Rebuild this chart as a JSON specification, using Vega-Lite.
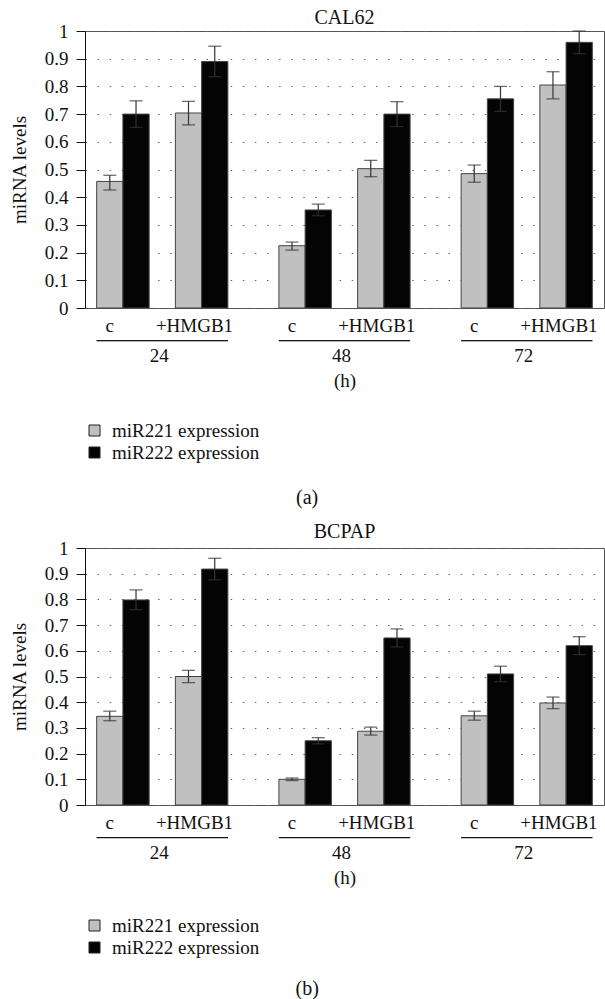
{
  "$schema": "https://vega.github.io/schema/vega-lite/v6.json",
  "padding": {"top": 7, "left": 9, "right": 0, "bottom": 0},
  "background": "white",
  "config": {
    "font": "Liberation Serif",
    "view": {"stroke": "#555555", "strokeWidth": 1},
    "axis": {"labelFont": "Liberation Serif", "titleFont": "Liberation Serif", "labelFontSize": 19, "titleFontSize": 19, "labelColor": "#111111", "titleColor": "#111111", "titleFontWeight": "normal"},
    "title": {"font": "Liberation Serif", "fontSize": 20, "fontWeight": "normal", "color": "#111111"},
    "concat": {"spacing": 13}
  },
  "datasets": {
    "bars": [
      {"cell": "CAL62", "time": "24", "treatment": "c", "bar": "c|miR221", "mir": "miR221 expression", "value": 0.457, "lo": 0.426, "hi": 0.479},
      {"cell": "CAL62", "time": "24", "treatment": "c", "bar": "c|miR222", "mir": "miR222 expression", "value": 0.700, "lo": 0.652, "hi": 0.748},
      {"cell": "CAL62", "time": "24", "treatment": "+HMGB1", "bar": "+HMGB1|miR221", "mir": "miR221 expression", "value": 0.704, "lo": 0.661, "hi": 0.746},
      {"cell": "CAL62", "time": "24", "treatment": "+HMGB1", "bar": "+HMGB1|miR222", "mir": "miR222 expression", "value": 0.890, "lo": 0.835, "hi": 0.945},
      {"cell": "CAL62", "time": "48", "treatment": "c", "bar": "c|miR221", "mir": "miR221 expression", "value": 0.225, "lo": 0.209, "hi": 0.238},
      {"cell": "CAL62", "time": "48", "treatment": "c", "bar": "c|miR222", "mir": "miR222 expression", "value": 0.354, "lo": 0.333, "hi": 0.375},
      {"cell": "CAL62", "time": "48", "treatment": "+HMGB1", "bar": "+HMGB1|miR221", "mir": "miR221 expression", "value": 0.503, "lo": 0.474, "hi": 0.533},
      {"cell": "CAL62", "time": "48", "treatment": "+HMGB1", "bar": "+HMGB1|miR222", "mir": "miR222 expression", "value": 0.700, "lo": 0.655, "hi": 0.745},
      {"cell": "CAL62", "time": "72", "treatment": "c", "bar": "c|miR221", "mir": "miR221 expression", "value": 0.485, "lo": 0.454, "hi": 0.516},
      {"cell": "CAL62", "time": "72", "treatment": "c", "bar": "c|miR222", "mir": "miR222 expression", "value": 0.755, "lo": 0.710, "hi": 0.800},
      {"cell": "CAL62", "time": "72", "treatment": "+HMGB1", "bar": "+HMGB1|miR221", "mir": "miR221 expression", "value": 0.805, "lo": 0.755, "hi": 0.853},
      {"cell": "CAL62", "time": "72", "treatment": "+HMGB1", "bar": "+HMGB1|miR222", "mir": "miR222 expression", "value": 0.959, "lo": 0.918, "hi": 1.0},
      {"cell": "BCPAP", "time": "24", "treatment": "c", "bar": "c|miR221", "mir": "miR221 expression", "value": 0.345, "lo": 0.328, "hi": 0.365},
      {"cell": "BCPAP", "time": "24", "treatment": "c", "bar": "c|miR222", "mir": "miR222 expression", "value": 0.798, "lo": 0.760, "hi": 0.837},
      {"cell": "BCPAP", "time": "24", "treatment": "+HMGB1", "bar": "+HMGB1|miR221", "mir": "miR221 expression", "value": 0.500, "lo": 0.476, "hi": 0.524},
      {"cell": "BCPAP", "time": "24", "treatment": "+HMGB1", "bar": "+HMGB1|miR222", "mir": "miR222 expression", "value": 0.918, "lo": 0.876, "hi": 0.960},
      {"cell": "BCPAP", "time": "48", "treatment": "c", "bar": "c|miR221", "mir": "miR221 expression", "value": 0.100, "lo": 0.095, "hi": 0.105},
      {"cell": "BCPAP", "time": "48", "treatment": "c", "bar": "c|miR222", "mir": "miR222 expression", "value": 0.250, "lo": 0.238, "hi": 0.262},
      {"cell": "BCPAP", "time": "48", "treatment": "+HMGB1", "bar": "+HMGB1|miR221", "mir": "miR221 expression", "value": 0.287, "lo": 0.272, "hi": 0.303},
      {"cell": "BCPAP", "time": "48", "treatment": "+HMGB1", "bar": "+HMGB1|miR222", "mir": "miR222 expression", "value": 0.650, "lo": 0.615, "hi": 0.685},
      {"cell": "BCPAP", "time": "72", "treatment": "c", "bar": "c|miR221", "mir": "miR221 expression", "value": 0.347, "lo": 0.330, "hi": 0.365},
      {"cell": "BCPAP", "time": "72", "treatment": "c", "bar": "c|miR222", "mir": "miR222 expression", "value": 0.510, "lo": 0.480, "hi": 0.540},
      {"cell": "BCPAP", "time": "72", "treatment": "+HMGB1", "bar": "+HMGB1|miR221", "mir": "miR221 expression", "value": 0.397, "lo": 0.375, "hi": 0.420},
      {"cell": "BCPAP", "time": "72", "treatment": "+HMGB1", "bar": "+HMGB1|miR222", "mir": "miR222 expression", "value": 0.620, "lo": 0.585, "hi": 0.655}
    ],
    "groups": [{"time": "24"}, {"time": "48"}, {"time": "72"}]
  },
  "resolve": {"scale": {"color": "independent"}, "legend": {"color": "independent"}},
  "vconcat": [
    {
      "title": {"text": "(a)", "orient": "bottom", "anchor": "middle", "offset": 24},
      "resolve": {"scale": {"color": "independent"}, "legend": {"color": "independent"}},
      "vconcat": [
        {
          "width": 519,
          "height": 277,
          "title": {"text": "CAL62", "offset": -6},
          "layer": [
            {
              "data": {"name": "bars"},
              "transform": [{"filter": "datum.cell === 'CAL62'"}],
              "mark": {"type": "bar", "stroke": "#444444", "strokeWidth": 1},
              "encoding": {
                "x": {"field": "time", "type": "nominal", "sort": ["24", "48", "72"], "scale": {"paddingInner": 0.28, "paddingOuter": 0.064},
                  "axis": {"title": "(h)", "labelAngle": 0, "labelPadding": 38, "ticks": false, "domain": false, "titlePadding": 6, "labelOffset": -3}},
                "xOffset": {"field": "bar", "type": "nominal", "scale": {"domain": ["c|miR221", "c|miR222", "gap", "+HMGB1|miR221", "+HMGB1|miR222"], "paddingInner": 0, "paddingOuter": 0}},
                "y": {"field": "value", "type": "quantitative", "scale": {"domain": [0, 1], "nice": false},
                  "axis": {"title": "miRNA levels", "values": [0, 0.1, 0.2, 0.3, 0.4, 0.5, 0.6, 0.7, 0.8, 0.9, 1], "format": "~g", "labelOverlap": false, "grid": true, "gridDash": [1.5, 10.6], "gridColor": "#666666", "gridWidth": 1, "tickSize": 9, "tickColor": "#111111", "domainColor": "#111111", "labelPadding": 8, "titlePadding": 15}},
                "color": {"field": "mir", "type": "nominal", "scale": {"domain": ["miR221 expression", "miR222 expression"], "range": ["#c0c0c0", "#040404"]},
                  "legend": {"orient": "none", "legendX": 0, "legendY": 390, "title": null, "symbolType": "square", "symbolSize": 121, "symbolStrokeColor": "#222222", "symbolStrokeWidth": 1, "symbolOpacity": 1, "labelFontSize": 19, "labelFont": "Liberation Serif", "labelColor": "#111111", "labelOffset": 8, "rowPadding": 2, "padding": 0}}
              }
            },
            {
              "data": {"name": "bars"},
              "transform": [{"filter": "datum.cell === 'CAL62'"}],
              "mark": {"type": "rule", "color": "#333333", "strokeWidth": 1.2},
              "encoding": {
                "x": {"field": "time", "type": "nominal", "sort": ["24", "48", "72"]},
                "xOffset": {"field": "bar", "type": "nominal"},
                "y": {"field": "lo", "type": "quantitative", "scale": {"domain": [0, 1], "nice": false},
                  "axis": {"title": "miRNA levels", "values": [0, 0.1, 0.2, 0.3, 0.4, 0.5, 0.6, 0.7, 0.8, 0.9, 1], "format": "~g", "labelOverlap": false, "grid": true, "gridDash": [1.5, 10.6], "gridColor": "#666666", "gridWidth": 1, "tickSize": 9, "tickColor": "#111111", "domainColor": "#111111", "labelPadding": 8, "titlePadding": 15}},
                "y2": {"field": "hi"}
              }
            },
            {
              "data": {"name": "bars"},
              "transform": [{"filter": "datum.cell === 'CAL62'"}],
              "mark": {"type": "tick", "color": "#333333", "thickness": 1.3, "size": 13},
              "encoding": {
                "x": {"field": "time", "type": "nominal", "sort": ["24", "48", "72"]},
                "xOffset": {"field": "bar", "type": "nominal"},
                "y": {"field": "lo", "type": "quantitative", "scale": {"domain": [0, 1], "nice": false},
                  "axis": {"title": "miRNA levels", "values": [0, 0.1, 0.2, 0.3, 0.4, 0.5, 0.6, 0.7, 0.8, 0.9, 1], "format": "~g", "labelOverlap": false, "grid": true, "gridDash": [1.5, 10.6], "gridColor": "#666666", "gridWidth": 1, "tickSize": 9, "tickColor": "#111111", "domainColor": "#111111", "labelPadding": 8, "titlePadding": 15}}
              }
            },
            {
              "data": {"name": "bars"},
              "transform": [{"filter": "datum.cell === 'CAL62'"}],
              "mark": {"type": "tick", "color": "#333333", "thickness": 1.3, "size": 13},
              "encoding": {
                "x": {"field": "time", "type": "nominal", "sort": ["24", "48", "72"]},
                "xOffset": {"field": "bar", "type": "nominal"},
                "y": {"field": "hi", "type": "quantitative", "scale": {"domain": [0, 1], "nice": false},
                  "axis": {"title": "miRNA levels", "values": [0, 0.1, 0.2, 0.3, 0.4, 0.5, 0.6, 0.7, 0.8, 0.9, 1], "format": "~g", "labelOverlap": false, "grid": true, "gridDash": [1.5, 10.6], "gridColor": "#666666", "gridWidth": 1, "tickSize": 9, "tickColor": "#111111", "domainColor": "#111111", "labelPadding": 8, "titlePadding": 15}}
              }
            },
            {
              "data": {"name": "bars"},
              "transform": [{"filter": "datum.cell === 'CAL62' && datum.mir === 'miR221 expression' && datum.treatment === 'c'"}],
              "mark": {"type": "text", "baseline": "middle", "fontSize": 19, "font": "Liberation Serif", "color": "#111111"},
              "encoding": {
                "x": {"field": "time", "type": "nominal", "sort": ["24", "48", "72"]},
                "xOffset": {"field": "bar", "type": "nominal"},
                "y": {"datum": -0.065, "type": "quantitative", "scale": {"domain": [0, 1], "nice": false},
                  "axis": {"title": "miRNA levels", "values": [0, 0.1, 0.2, 0.3, 0.4, 0.5, 0.6, 0.7, 0.8, 0.9, 1], "format": "~g", "labelOverlap": false, "grid": true, "gridDash": [1.5, 10.6], "gridColor": "#666666", "gridWidth": 1, "tickSize": 9, "tickColor": "#111111", "domainColor": "#111111", "labelPadding": 8, "titlePadding": 15}},
                "text": {"field": "treatment"}
              }
            },
            {
              "data": {"name": "bars"},
              "transform": [{"filter": "datum.cell === 'CAL62' && datum.mir === 'miR221 expression' && datum.treatment === '+HMGB1'"}],
              "mark": {"type": "text", "baseline": "middle", "fontSize": 19, "font": "Liberation Serif", "color": "#111111", "dx": 6},
              "encoding": {
                "x": {"field": "time", "type": "nominal", "sort": ["24", "48", "72"]},
                "xOffset": {"field": "bar", "type": "nominal"},
                "y": {"datum": -0.065, "type": "quantitative", "scale": {"domain": [0, 1], "nice": false},
                  "axis": {"title": "miRNA levels", "values": [0, 0.1, 0.2, 0.3, 0.4, 0.5, 0.6, 0.7, 0.8, 0.9, 1], "format": "~g", "labelOverlap": false, "grid": true, "gridDash": [1.5, 10.6], "gridColor": "#666666", "gridWidth": 1, "tickSize": 9, "tickColor": "#111111", "domainColor": "#111111", "labelPadding": 8, "titlePadding": 15}},
                "text": {"field": "treatment"}
              }
            },
            {
              "data": {"name": "groups"},
              "mark": {"type": "rect", "stroke": "#111111", "strokeWidth": 1, "fill": "#111111"},
              "encoding": {
                "x": {"field": "time", "type": "nominal", "sort": ["24", "48", "72"]},
                "y": {"datum": -0.118, "type": "quantitative", "scale": {"domain": [0, 1], "nice": false},
                  "axis": {"title": "miRNA levels", "values": [0, 0.1, 0.2, 0.3, 0.4, 0.5, 0.6, 0.7, 0.8, 0.9, 1], "format": "~g", "labelOverlap": false, "grid": true, "gridDash": [1.5, 10.6], "gridColor": "#666666", "gridWidth": 1, "tickSize": 9, "tickColor": "#111111", "domainColor": "#111111", "labelPadding": 8, "titlePadding": 15}},
                "y2": {"datum": -0.118}
              }
            }
          ]
        }
      ]
    },
    {
      "title": {"text": "(b)", "orient": "bottom", "anchor": "middle", "offset": 20},
      "resolve": {"scale": {"color": "independent"}, "legend": {"color": "independent"}},
      "vconcat": [
        {
          "width": 519,
          "height": 257,
          "title": {"text": "BCPAP", "offset": -3},
          "layer": [
            {
              "data": {"name": "bars"},
              "transform": [{"filter": "datum.cell === 'BCPAP'"}],
              "mark": {"type": "bar", "stroke": "#444444", "strokeWidth": 1},
              "encoding": {
                "x": {"field": "time", "type": "nominal", "sort": ["24", "48", "72"], "scale": {"paddingInner": 0.28, "paddingOuter": 0.064},
                  "axis": {"title": "(h)", "labelAngle": 0, "labelPadding": 38, "ticks": false, "domain": false, "titlePadding": 6, "labelOffset": -3}},
                "xOffset": {"field": "bar", "type": "nominal", "scale": {"domain": ["c|miR221", "c|miR222", "gap", "+HMGB1|miR221", "+HMGB1|miR222"], "paddingInner": 0, "paddingOuter": 0}},
                "y": {"field": "value", "type": "quantitative", "scale": {"domain": [0, 1], "nice": false},
                  "axis": {"title": "miRNA levels", "values": [0, 0.1, 0.2, 0.3, 0.4, 0.5, 0.6, 0.7, 0.8, 0.9, 1], "format": "~g", "labelOverlap": false, "grid": true, "gridDash": [1.5, 10.6], "gridColor": "#666666", "gridWidth": 1, "tickSize": 9, "tickColor": "#111111", "domainColor": "#111111", "labelPadding": 8, "titlePadding": 15}},
                "color": {"field": "mir", "type": "nominal", "scale": {"domain": ["miR221 expression", "miR222 expression"], "range": ["#c0c0c0", "#040404"]},
                  "legend": {"orient": "none", "legendX": 0, "legendY": 368, "title": null, "symbolType": "square", "symbolSize": 121, "symbolStrokeColor": "#222222", "symbolStrokeWidth": 1, "symbolOpacity": 1, "labelFontSize": 19, "labelFont": "Liberation Serif", "labelColor": "#111111", "labelOffset": 8, "rowPadding": 2, "padding": 0}}
              }
            },
            {
              "data": {"name": "bars"},
              "transform": [{"filter": "datum.cell === 'BCPAP'"}],
              "mark": {"type": "rule", "color": "#333333", "strokeWidth": 1.2},
              "encoding": {
                "x": {"field": "time", "type": "nominal", "sort": ["24", "48", "72"]},
                "xOffset": {"field": "bar", "type": "nominal"},
                "y": {"field": "lo", "type": "quantitative", "scale": {"domain": [0, 1], "nice": false},
                  "axis": {"title": "miRNA levels", "values": [0, 0.1, 0.2, 0.3, 0.4, 0.5, 0.6, 0.7, 0.8, 0.9, 1], "format": "~g", "labelOverlap": false, "grid": true, "gridDash": [1.5, 10.6], "gridColor": "#666666", "gridWidth": 1, "tickSize": 9, "tickColor": "#111111", "domainColor": "#111111", "labelPadding": 8, "titlePadding": 15}},
                "y2": {"field": "hi"}
              }
            },
            {
              "data": {"name": "bars"},
              "transform": [{"filter": "datum.cell === 'BCPAP'"}],
              "mark": {"type": "tick", "color": "#333333", "thickness": 1.3, "size": 13},
              "encoding": {
                "x": {"field": "time", "type": "nominal", "sort": ["24", "48", "72"]},
                "xOffset": {"field": "bar", "type": "nominal"},
                "y": {"field": "lo", "type": "quantitative", "scale": {"domain": [0, 1], "nice": false},
                  "axis": {"title": "miRNA levels", "values": [0, 0.1, 0.2, 0.3, 0.4, 0.5, 0.6, 0.7, 0.8, 0.9, 1], "format": "~g", "labelOverlap": false, "grid": true, "gridDash": [1.5, 10.6], "gridColor": "#666666", "gridWidth": 1, "tickSize": 9, "tickColor": "#111111", "domainColor": "#111111", "labelPadding": 8, "titlePadding": 15}}
              }
            },
            {
              "data": {"name": "bars"},
              "transform": [{"filter": "datum.cell === 'BCPAP'"}],
              "mark": {"type": "tick", "color": "#333333", "thickness": 1.3, "size": 13},
              "encoding": {
                "x": {"field": "time", "type": "nominal", "sort": ["24", "48", "72"]},
                "xOffset": {"field": "bar", "type": "nominal"},
                "y": {"field": "hi", "type": "quantitative", "scale": {"domain": [0, 1], "nice": false},
                  "axis": {"title": "miRNA levels", "values": [0, 0.1, 0.2, 0.3, 0.4, 0.5, 0.6, 0.7, 0.8, 0.9, 1], "format": "~g", "labelOverlap": false, "grid": true, "gridDash": [1.5, 10.6], "gridColor": "#666666", "gridWidth": 1, "tickSize": 9, "tickColor": "#111111", "domainColor": "#111111", "labelPadding": 8, "titlePadding": 15}}
              }
            },
            {
              "data": {"name": "bars"},
              "transform": [{"filter": "datum.cell === 'BCPAP' && datum.mir === 'miR221 expression' && datum.treatment === 'c'"}],
              "mark": {"type": "text", "baseline": "middle", "fontSize": 19, "font": "Liberation Serif", "color": "#111111"},
              "encoding": {
                "x": {"field": "time", "type": "nominal", "sort": ["24", "48", "72"]},
                "xOffset": {"field": "bar", "type": "nominal"},
                "y": {"datum": -0.07, "type": "quantitative", "scale": {"domain": [0, 1], "nice": false},
                  "axis": {"title": "miRNA levels", "values": [0, 0.1, 0.2, 0.3, 0.4, 0.5, 0.6, 0.7, 0.8, 0.9, 1], "format": "~g", "labelOverlap": false, "grid": true, "gridDash": [1.5, 10.6], "gridColor": "#666666", "gridWidth": 1, "tickSize": 9, "tickColor": "#111111", "domainColor": "#111111", "labelPadding": 8, "titlePadding": 15}},
                "text": {"field": "treatment"}
              }
            },
            {
              "data": {"name": "bars"},
              "transform": [{"filter": "datum.cell === 'BCPAP' && datum.mir === 'miR221 expression' && datum.treatment === '+HMGB1'"}],
              "mark": {"type": "text", "baseline": "middle", "fontSize": 19, "font": "Liberation Serif", "color": "#111111", "dx": 6},
              "encoding": {
                "x": {"field": "time", "type": "nominal", "sort": ["24", "48", "72"]},
                "xOffset": {"field": "bar", "type": "nominal"},
                "y": {"datum": -0.07, "type": "quantitative", "scale": {"domain": [0, 1], "nice": false},
                  "axis": {"title": "miRNA levels", "values": [0, 0.1, 0.2, 0.3, 0.4, 0.5, 0.6, 0.7, 0.8, 0.9, 1], "format": "~g", "labelOverlap": false, "grid": true, "gridDash": [1.5, 10.6], "gridColor": "#666666", "gridWidth": 1, "tickSize": 9, "tickColor": "#111111", "domainColor": "#111111", "labelPadding": 8, "titlePadding": 15}},
                "text": {"field": "treatment"}
              }
            },
            {
              "data": {"name": "groups"},
              "mark": {"type": "rect", "stroke": "#111111", "strokeWidth": 1, "fill": "#111111"},
              "encoding": {
                "x": {"field": "time", "type": "nominal", "sort": ["24", "48", "72"]},
                "y": {"datum": -0.127, "type": "quantitative", "scale": {"domain": [0, 1], "nice": false},
                  "axis": {"title": "miRNA levels", "values": [0, 0.1, 0.2, 0.3, 0.4, 0.5, 0.6, 0.7, 0.8, 0.9, 1], "format": "~g", "labelOverlap": false, "grid": true, "gridDash": [1.5, 10.6], "gridColor": "#666666", "gridWidth": 1, "tickSize": 9, "tickColor": "#111111", "domainColor": "#111111", "labelPadding": 8, "titlePadding": 15}},
                "y2": {"datum": -0.127}
              }
            }
          ]
        }
      ]
    }
  ]
}
